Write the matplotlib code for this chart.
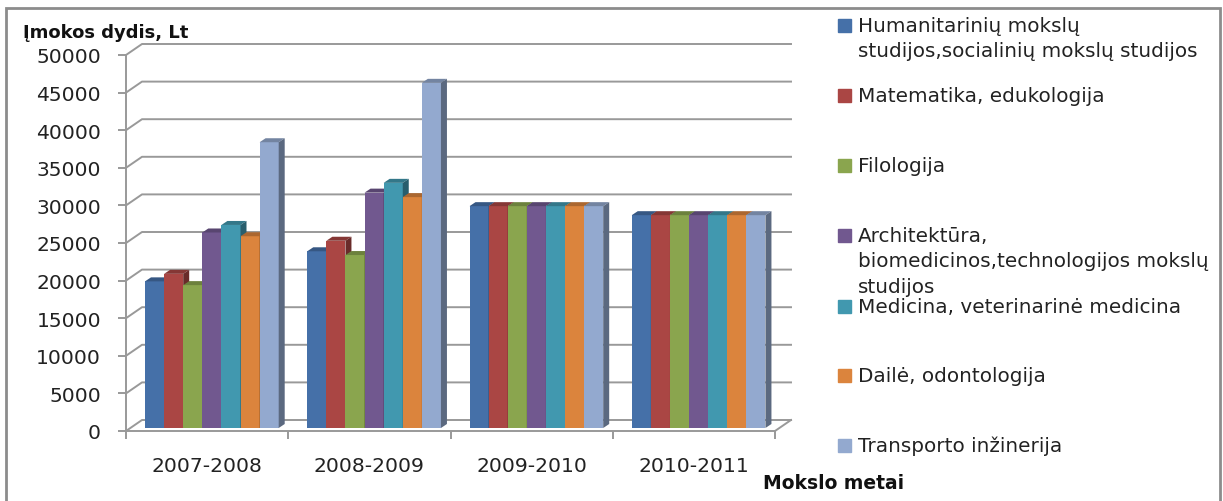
import numpy as np
import matplotlib
matplotlib.use('Agg')
import matplotlib.pyplot as plt
from matplotlib.patches import Polygon, Rectangle
from matplotlib.colors import to_rgb

years = ['2007-2008', '2008-2009', '2009-2010', '2010-2011']
series_names = ['Humanitarinių mokslų\nstudijos,socialinių mokslų studijos',
                'Matematika, edukologija',
                'Filologija',
                'Architektūra,\nbiomedicinos,technologijos mokslų\nstudijos',
                'Medicina, veterinarinė medicina',
                'Dailė, odontologija',
                'Transporto inžinerija']
humanitariniai = [19500, 23500, 29500, 28300]
matematika = [20500, 24900, 29500, 28300]
filologija = [19000, 23000, 29500, 28300]
architektura = [26000, 31300, 29500, 28300]
medicina = [27000, 32600, 29500, 28300]
daile = [25500, 30700, 29500, 28300]
transportas = [38000, 45900, 29500, 28300]
all_values = [humanitariniai, matematika, filologija, architektura, medicina, daile, transportas]
colors = ['#4570a8', '#aa4644', '#8aa54e', '#71588f', '#4198af', '#db843d', '#93a9cf']
y_ticks = [0, 5000, 10000, 15000, 20000, 25000, 30000, 35000, 40000, 45000, 50000]

W, H = 1223, 502
GRID = '#999999'
LW = 1.4
TEXT_SIZE = 14.6

plt.rcParams['font.family'] = ['DejaVu Sans']
fig = plt.figure(figsize=(W / 100, H / 100), dpi=100)

# front plane of the fake 3d box
x0, x1, y0, y1 = 126, 775, 432, 56
ax = fig.add_axes([x0 / W, 1 - y0 / H, (x1 - x0) / W, (y0 - y1) / H])
ax.set_xlim(0, 4)
ax.set_ylim(0, 50000)
ax.patch.set_alpha(0)
px = 4 / (x1 - x0)
py = 50000 / (y0 - y1)

# back wall offset and bar depth, pixels converted to data units
wall_dx, wall_dy = 16 * px, 11 * py
bar_dx, bar_dy = 6 * px, 4 * py
lift = 3 * py

for tick in y_ticks:
    ax.plot([0, wall_dx, 4 + wall_dx], [tick, tick + wall_dy, tick + wall_dy],
            color=GRID, lw=LW, clip_on=False, zorder=1)
ax.plot([4, 4 + wall_dx], [0, wall_dy], color=GRID, lw=LW, clip_on=False, zorder=1)

bar_w = 19.1 * px
start = 19 * px
for i, values in enumerate(all_values):
    base = np.array(to_rgb(colors[i]))
    lefts = [g + start + i * bar_w for g in range(len(years))]
    ax.bar(lefts, values, width=bar_w, bottom=lift, align='edge', color=colors[i], zorder=3 + i * 0.1)
    for left, v in zip(lefts, values):
        top = v + lift
        ax.add_patch(Polygon([(left, top), (left + bar_w, top),
                              (left + bar_w + bar_dx, top + bar_dy), (left + bar_dx, top + bar_dy)],
                             closed=True, color=base * 0.78, lw=0, zorder=3 + i * 0.1))
        ax.add_patch(Polygon([(left + bar_w, lift), (left + bar_w + bar_dx, lift + bar_dy),
                              (left + bar_w + bar_dx, top + bar_dy), (left + bar_w, top)],
                             closed=True, color=base * 0.62, lw=0, zorder=3 + i * 0.1))

for side in ['top', 'right']:
    ax.spines[side].set_visible(False)
for side in ['left', 'bottom']:
    ax.spines[side].set_color(GRID)
    ax.spines[side].set_linewidth(LW)
    ax.spines[side].set_zorder(6)

ax.set_yticks(y_ticks)
ax.set_yticklabels([str(t) for t in y_ticks], fontsize=TEXT_SIZE, color='#222222')
ax.set_xticks(range(5))
ax.set_xticklabels([])
ax.set_xticks(np.arange(len(years)) + 0.5, labels=years, minor=True, fontsize=TEXT_SIZE, color='#222222')
ax.tick_params(axis='y', color=GRID, width=LW, length=6, pad=12)
ax.tick_params(axis='x', which='major', color=GRID, width=LW, length=6)
ax.tick_params(axis='x', which='minor', length=0, pad=18)

fig.text(23 / W, 1 - 33 / H, 'Įmokos dydis, Lt', fontsize=13, fontweight='bold', va='center', color='#111111')
fig.text(763 / W, 1 - 484 / H, 'Mokslo metai', fontsize=13.5, fontweight='bold', va='center', color='#111111')

# legend drawn by hand, entries are unevenly spaced in the reference
legend_y = [26, 96, 166, 236, 307, 376, 446]
for name, c, ly in zip(series_names, colors, legend_y):
    fig.patches.append(Rectangle((838 / W, 1 - (ly + 6.5) / H), 13 / W, 13 / H, transform=fig.transFigure, color=c))
    fig.text(858 / W, 1 - (ly - 9) / H, name, fontsize=14.4, va='top', color='#222222', linespacing=1.42)

fig.patches.append(Rectangle((6 / W, -0.01), 1214 / W, 1 - 9 / H + 0.01, transform=fig.transFigure,
                             fill=False, edgecolor='#8c8c8c', lw=2, zorder=0))
fig.savefig('out.png', dpi=100)
